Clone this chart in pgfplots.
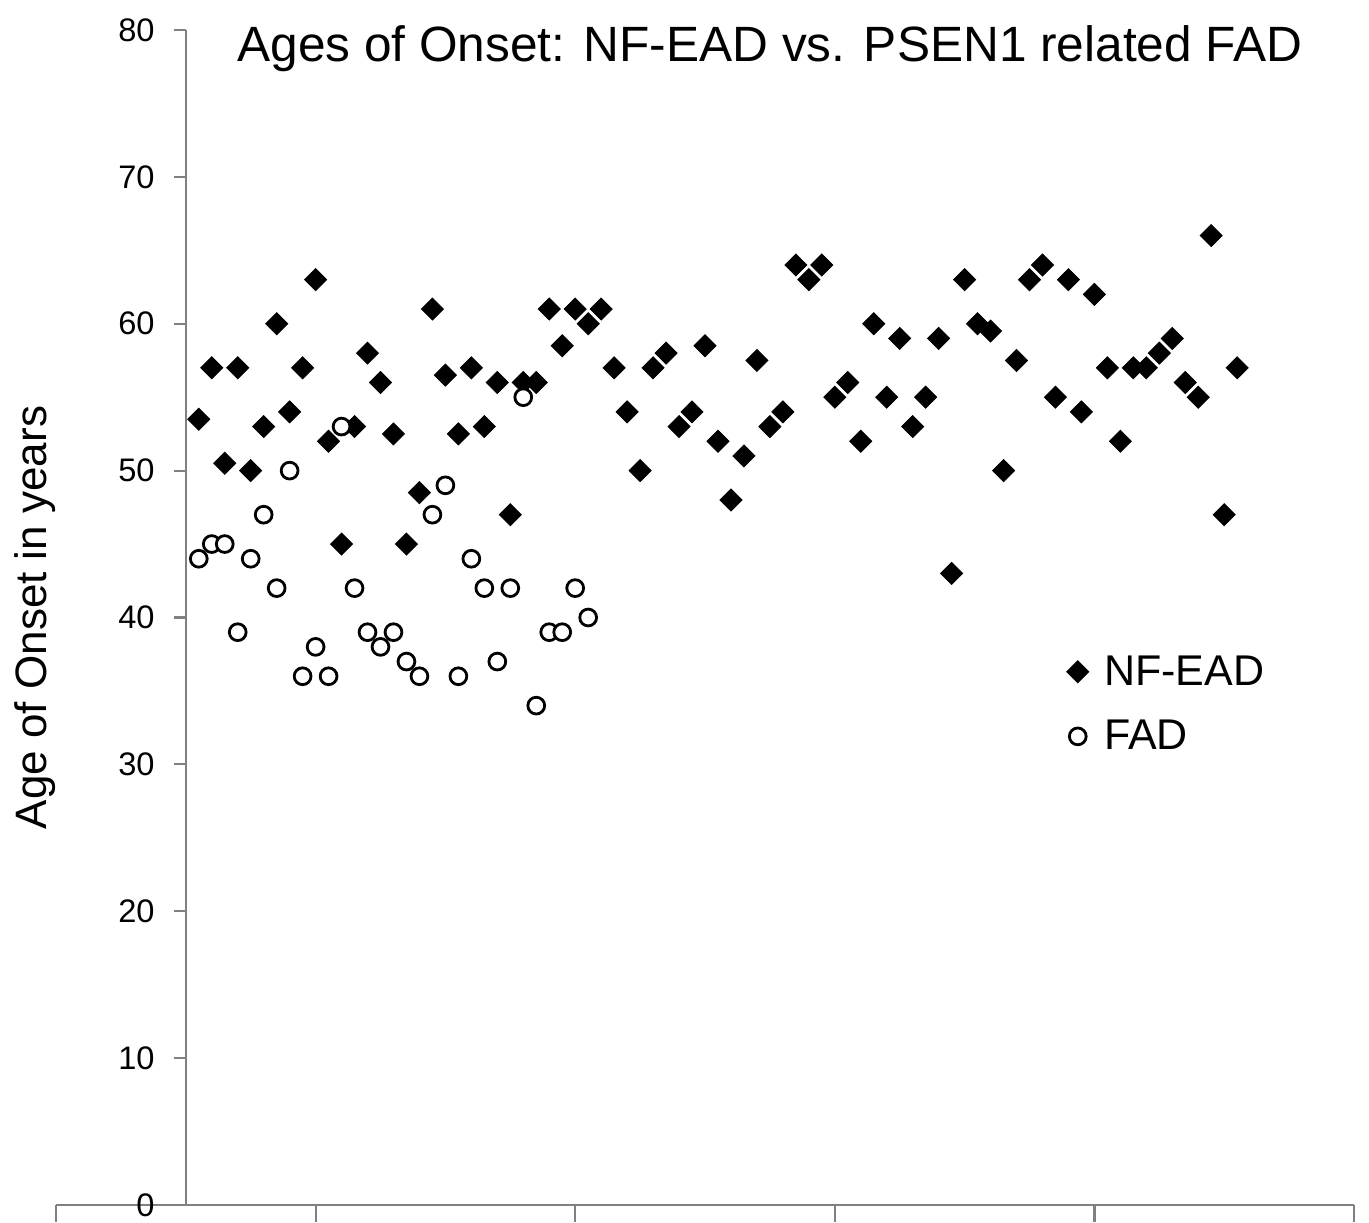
\documentclass[border=0pt]{standalone}
\usepackage{fontspec}
\setmainfont{Liberation Sans}
\usepackage{pgfplots}
\pgfplotsset{compat=1.18}

\definecolor{axgray}{gray}{0.5}

% NF-EAD ages of onset, one per subject
\pgfplotstableread{
x y
1 53.5
2 57
3 50.5
4 57
5 50
6 53
7 60
8 54
9 57
10 63
11 52
12 45
13 53
14 58
15 56
16 52.5
17 45
18 48.5
19 61
20 56.5
21 52.5
22 57
23 53
24 56
25 47
26 56
27 56
28 61
29 58.5
30 61
31 60
32 61
33 57
34 54
35 50
36 57
37 58
38 53
39 54
40 58.5
41 52
42 48
43 51
44 57.5
45 53
46 54
47 64
48 63
49 64
50 55
51 56
52 52
53 60
54 55
55 59
56 53
57 55
58 59
59 43
60 63
61 60
62 59.5
63 50
64 57.5
65 63
66 64
67 55
68 63
69 54
70 62
71 57
72 52
73 57
74 57
75 58
76 59
77 56
78 55
79 66
80 47
81 57
}\nfead

% PSEN1 related FAD
\pgfplotstableread{
x y
1 44
2 45
3 45
4 39
5 44
6 47
7 42
8 50
9 36
10 38
11 36
12 53
13 42
14 39
15 38
16 39
17 37
18 36
19 47
20 49
21 36
22 44
23 42
24 37
25 42
26 55
27 34
28 39
29 39
30 42
31 40
}\fad

\begin{document}
\begin{tikzpicture}
% outer frame: only the x axis line, running from -10 to 90
\begin{axis}[
    name=frame, scale only axis,
    width=649pt, height=587.5pt,
    xmin=-10, xmax=90, ymin=0, ymax=80,
    axis x line=bottom, axis y line=none,
    axis line style={-, axgray, line width=1.1pt},
    xtick={-10,10,30,50,70,90}, xticklabels={},
    ytick=\empty,
    tick align=outside, major tick length=8.5pt,
    tick style={axgray, line width=1.1pt},
]
\coordinate (bl) at (rel axis cs:0,0);
\coordinate (tr) at (rel axis cs:1,1);
\coordinate (o) at (axis cs:0,0);
\end{axis}

\begin{axis}[
    at={(o)}, anchor=south west, scale only axis,
    width=584.1pt, height=587.5pt,
    xmin=0, xmax=90, ymin=0, ymax=80,
    axis y line=left, axis x line=none,
    axis line style={-, axgray, line width=1.1pt},
    xtick=\empty,
    ytick={0,10,...,80},
    tick align=outside, major tick length=6pt,
    tick style={axgray, line width=1.1pt},
    /pgf/number format/assume math mode=true,
    yticklabel style={font=\fontsize{16.3}{19}\selectfont, inner sep=0pt, xshift=-9.4pt},
    ylabel={Age of Onset in years},
    ylabel style={at={(rel axis cs:-0.1191,0.5)}, anchor=base, rotate=0,
        font=\fontsize{22}{26}\selectfont},
    every axis title shift=0pt,
    title={Ages of Onset: NF-EAD vs. PSEN1 related FAD},
    title style={at={(rel axis cs:0.0438,0.973)}, anchor=base west,
        inner sep=0pt, font=\fontsize{24.8}{29}\selectfont},
    legend style={at={(rel axis cs:0.7526,0.468)}, anchor=north west,
        draw=none, fill=none, inner sep=0pt, row sep=16pt,
        font=\fontsize{21.5}{25}\selectfont,
        nodes={inner sep=0pt}},
    legend cell align=left,
    legend image code/.code={
        \draw[#1] plot coordinates {(0pt,0pt)};
        \path (-6pt,0pt) (13pt,0pt);
    },
]
\addplot[only marks, mark=square*, mark size=3.9pt,
    mark options={rotate=45, fill=black, draw=black}]
    table[x=x, y=y] {\nfead};
\addplot[only marks, mark=*, mark size=4.2pt,
    mark options={fill=white, draw=black, line width=1.4pt}]
    table[x=x, y=y] {\fad};
\legend{NF-EAD, FAD}
\end{axis}

\pgfresetboundingbox
\path ([xshift=-28pt, yshift=-8.5pt]bl) rectangle ([xshift=7.5pt, yshift=15pt]tr);
\end{tikzpicture}
\end{document}
